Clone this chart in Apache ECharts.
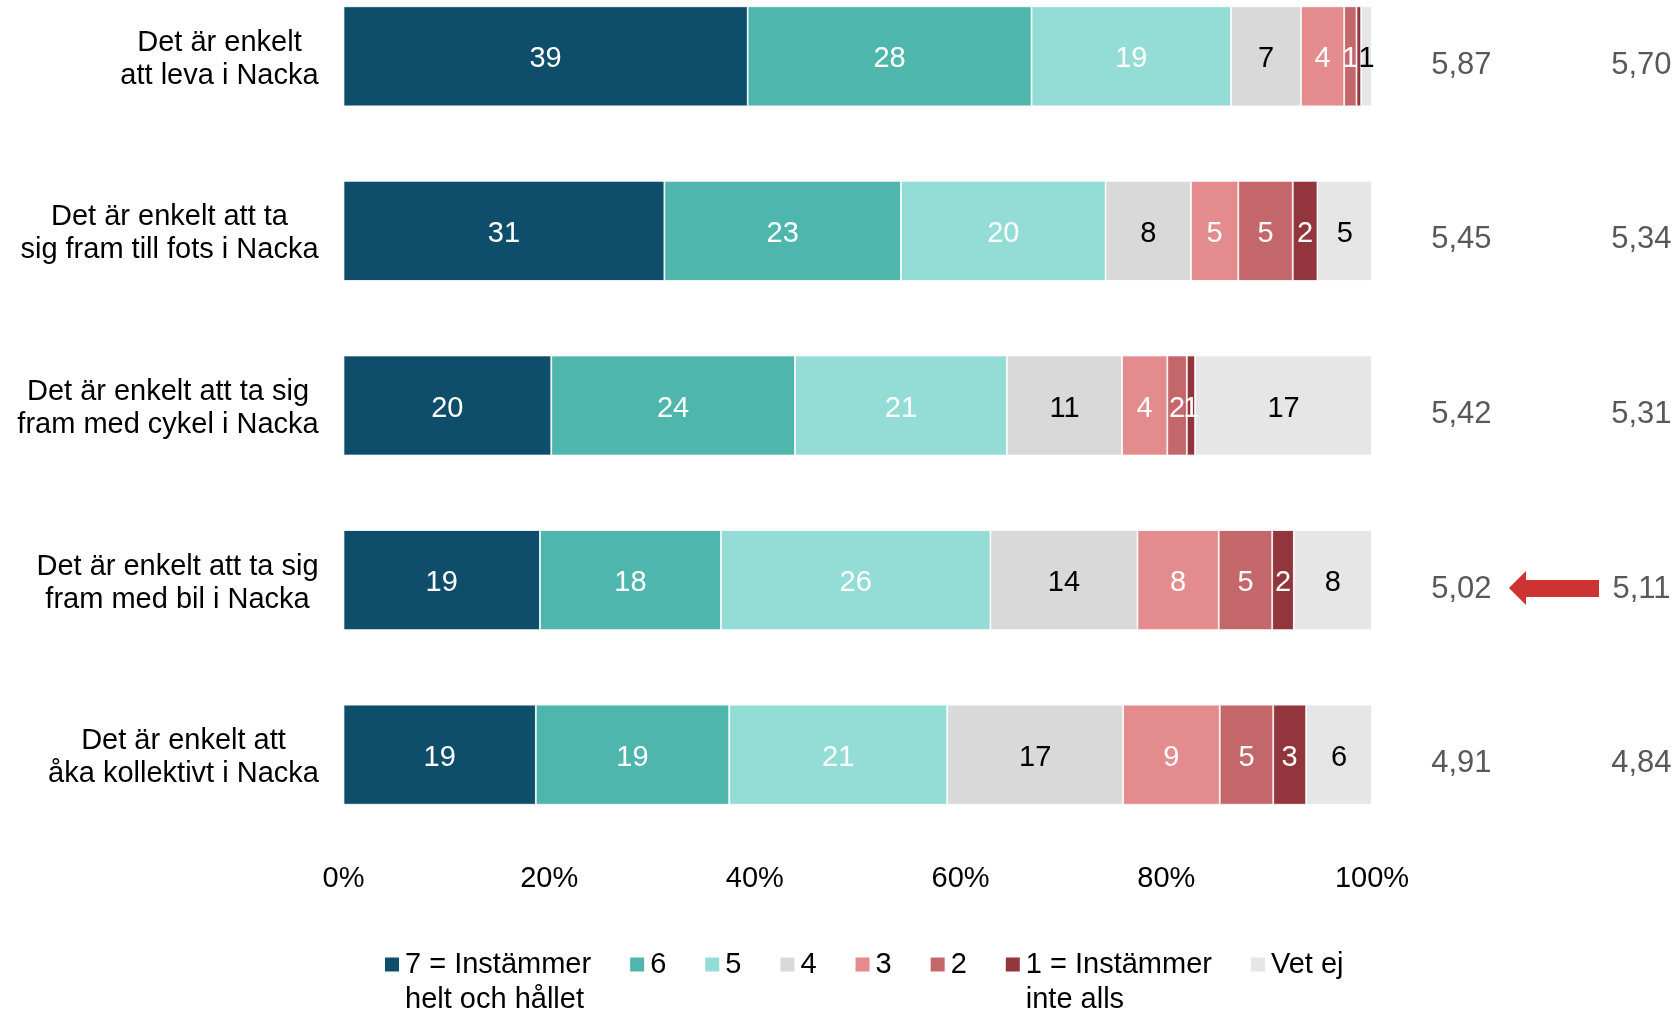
<!DOCTYPE html>
<html>
<head>
<meta charset="utf-8">
<script src="https://cdn.jsdelivr.net/npm/echarts@6/dist/echarts.min.js"></script>
<style>
html,body{margin:0;padding:0;background:#fff}
#chart{width:1678px;height:1010px}
</style>
</head>
<body>
<div id="chart"></div>
<script>
// kategorier (uppifrån och ned)
var categories = [
    'Det är enkelt\natt leva i Nacka',
    'Det är enkelt att ta\nsig fram till fots i Nacka',
    'Det är enkelt att ta sig\nfram med cykel i Nacka',
    'Det är enkelt att ta sig\nfram med bil i Nacka',
    'Det är enkelt att\nåka kollektivt i Nacka'
];
var seriesNames = ['7 = Instämmer\nhelt och hållet', '6', '5', '4', '3', '2', '1 = Instämmer\ninte alls', 'Vet ej'];
var colors = ['#0f4e6b', '#4fb6ae', '#94ddd6', '#d9d9d9', '#e38b8d', '#c4676b', '#93353c', '#e6e6e6'];
var labelColors = ['#fff', '#fff', '#fff', '#000', '#fff', '#fff', '#fff', '#000'];

// andelar i procent
var v7 = [39.3, 31.2, 20.2, 19.1, 18.7];
var v6 = [27.6, 23.0, 23.7, 17.6, 18.8];
var v5 = [19.4, 19.9, 20.6, 26.2, 21.2];
var v4 = [6.8, 8.3, 11.2, 14.3, 17.1];
var v3 = [4.2, 4.6, 4.4, 7.9, 9.4];
var v2 = [1.2, 5.3, 1.9, 5.2, 5.2];
var v1 = [0.45, 2.4, 0.8, 2.1, 3.2];
var vetEj = [1.05, 5.3, 17.2, 7.6, 6.4];

// medelvärden: i år och förra mätningen
var meanNow = [5.87, 5.45, 5.42, 5.02, 4.91];
var meanPrev = [5.70, 5.34, 5.31, 5.11, 4.84];
var arrowRows = [3]; // signifikant förändring
var xTicks = [0, 20, 40, 60, 80, 100];

var allValues = [v7, v6, v5, v4, v3, v2, v1, vetEj];
var FONT = '"Liberation Sans", Arial, sans-serif';

// mät bredaste raden så att raderna kan centreras mot varandra
var ctx = document.createElement('canvas').getContext('2d');
ctx.font = '29px "Liberation Sans"';
var rich = {};
categories.forEach(function (c, i) {
    var w = 0;
    c.split('\n').forEach(function (l) { w = Math.max(w, ctx.measureText(l).width); });
    rich['c' + i] = {width: Math.ceil(w) + 1, align: 'center', fontSize: 29, lineHeight: 33, color: '#000', fontFamily: FONT};
});

var fmtComma = function (v) { return v.toFixed(2).replace('.', ','); };

var series = allValues.map(function (vals, i) {
    return {
        name: seriesNames[i],
        type: 'bar',
        stack: 'total',
        barWidth: 100,
        data: vals,
        itemStyle: {color: colors[i], borderColor: '#fff', borderWidth: 0.8},
        label: {
            show: true,
            position: 'inside',
            offset: [0, 3],
            color: labelColors[i],
            fontSize: 29,
            fontFamily: FONT,
            formatter: function (p) {
                var r = Math.round(p.value);
                return r > 0 ? String(r) : '';
            }
        }
    };
});

var colNow = 108.7, colPrev = 126.2, colArrow = 117.7;
series.push({
    type: 'scatter',
    symbolSize: 1,
    itemStyle: {color: 'rgba(0,0,0,0)'},
    data: meanNow.map(function (v, i) { return [colNow, i, v]; }),
    label: {show: true, position: 'inside', offset: [0, 9], color: '#2e2e2e', fontSize: 31, fontFamily: FONT,
        formatter: function (p) { return fmtComma(p.value[2]); }},
    silent: true
});
series.push({
    type: 'scatter',
    symbolSize: 1,
    itemStyle: {color: 'rgba(0,0,0,0)'},
    data: meanPrev.map(function (v, i) { return [colPrev, i, v]; }),
    label: {show: true, position: 'inside', offset: [0, 9], color: '#2e2e2e', fontSize: 31, fontFamily: FONT,
        formatter: function (p) { return fmtComma(p.value[2]); }},
    silent: true
});
series.push({
    type: 'scatter',
    symbol: 'path://M0,17 L17,0 L17,9 L90,9 L90,26 L17,26 L17,34 Z',
    symbolSize: [90, 34],
    symbolOffset: [0, 8],
    itemStyle: {color: '#c00000'},
    data: arrowRows.map(function (r) { return [colArrow, r]; }),
    silent: true
});

var myChart = echarts.init(document.getElementById('chart'));
myChart.setOption({
    animation: false,
    textStyle: {fontFamily: FONT},
    grid: {left: 343.5, top: -31, width: 1337, height: 873, outerBoundsMode: 'none'},
    legend: {
        data: seriesNames,
        left: 383,
        top: 912,
        padding: 0,
        itemWidth: 16,
        itemHeight: 16,
        itemGap: 37,
        icon: 'rect',
        selectedMode: false,
        // tom första rad så att ikonen hamnar vid textens första rad
        formatter: function (n) { return n.indexOf('\n') >= 0 ? ' \n' + n : n; },
        textStyle: {fontSize: 29, lineHeight: 35, color: '#000', fontFamily: FONT}
    },
    xAxis: {
        type: 'value',
        min: 0,
        max: 130,
        interval: 20,
        axisLine: {show: false},
        axisTick: {show: false},
        splitLine: {show: false},
        axisLabel: {
            fontSize: 29,
            color: '#000',
            margin: 22,
            fontFamily: FONT,
            showMaxLabel: false,
            formatter: function (v) { return xTicks.indexOf(v) >= 0 ? v + '%' : ''; }
        }
    },
    yAxis: {
        type: 'category',
        inverse: true,
        data: categories,
        axisLine: {show: false},
        axisTick: {show: false},
        axisLabel: {
            margin: 24,
            align: 'right',
            padding: [6, 0, 0, 0],
            formatter: function (v, i) {
                return v.split('\n').map(function (l) { return '{c' + i + '|' + l + '}'; }).join('\n');
            },
            rich: rich
        }
    },
    series: series
});
</script>
</body>
</html>
